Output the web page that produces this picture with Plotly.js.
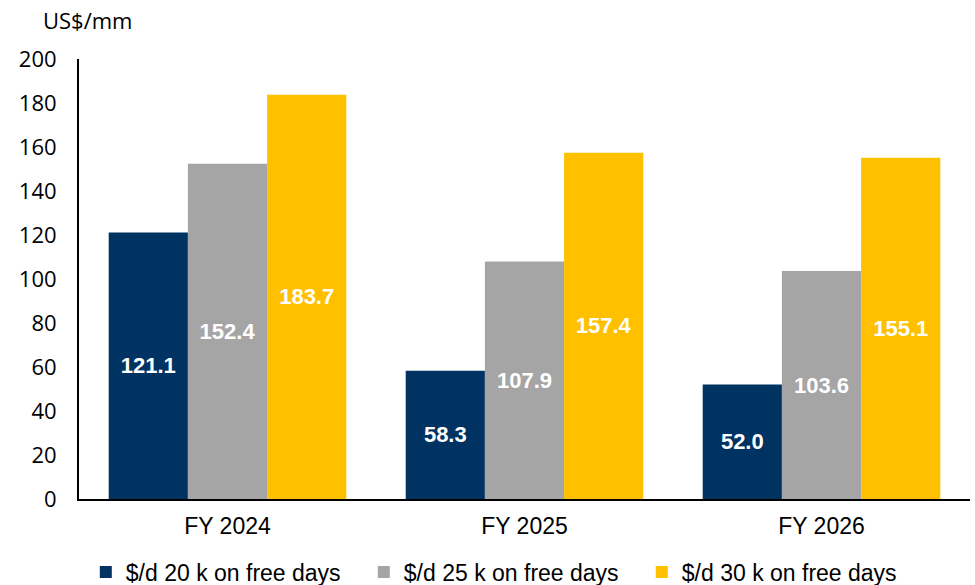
<!DOCTYPE html>
<html>
<head>
<meta charset="utf-8">
<script src="https://cdn.plot.ly/plotly-3.0.1.min.js"></script>
<style>html,body{margin:0;padding:0;background:#fff;}#chart{width:975px;height:585px;}</style>
</head>
<body>
<div id="chart"></div>
<script>
const categories = ["FY 2024", "FY 2025", "FY 2026"];
const seriesNames = ["$/d 20 k on free days", "$/d 25 k on free days", "$/d 30 k on free days"];
const values20k = [121.1, 58.3, 52.0];
const values25k = [152.4, 107.9, 103.6];
const values30k = [183.7, 157.4, 155.1];
const colors = ["#003361", "#A5A5A5", "#FFC000"];
const yTicks = [0, 20, 40, 60, 80, 100, 120, 140, 160, 180, 200];

const allValues = [values20k, values25k, values30k];
const traces = allValues.map((vals, i) => ({
  type: "bar",
  name: seriesNames[i],
  x: categories,
  y: vals,
  marker: {color: colors[i], line: {width: 0}},
  texttemplate: "%{y:.1f}",
  textposition: "inside",
  insidetextanchor: "middle",
  constraintext: "none",
  textangle: 0,
  textfont: {family: "Liberation Sans, Arial", size: 22, color: "#ffffff", weight: "bold"},
  hoverinfo: "x+y+name"
}));

const layout = {
  width: 975,
  height: 585,
  margin: {l: 79, r: 5, t: 59, b: 86},
  paper_bgcolor: "#ffffff",
  plot_bgcolor: "#ffffff",
  barmode: "group",
  bargap: 0.2,
  bargroupgap: 0,
  showlegend: true,
  legend: {
    orientation: "h",
    xref: "container", yref: "container",
    x: 0.088, xanchor: "left",
    y: 0.022, yanchor: "middle",
    font: {family: "Liberation Sans, Arial", size: 23, color: "#000000"},
    entrywidth: 233,
    itemclick: false
  },
  xaxis: {
    type: "category",
    showline: true, linecolor: "#000000", linewidth: 2,
    showgrid: false, zeroline: false,
    ticks: "",
    ticklabelstandoff: 5,
    tickfont: {family: "Liberation Sans, Arial", size: 23, color: "#000000"}
  },
  yaxis: {
    range: [0, 200],
    tickvals: yTicks,
    showline: true, linecolor: "#000000", linewidth: 2,
    showgrid: false, zeroline: false,
    ticks: "",
    ticklabelstandoff: 16,
    tickfont: {family: "Open Sans, DejaVu Sans", size: 22, color: "#000000"}
  },
  annotations: [{
    text: "US$/mm",
    xref: "paper", yref: "paper",
    x: 0.0101, y: 1.088,
    xanchor: "center", yanchor: "middle",
    showarrow: false,
    font: {family: "Open Sans, DejaVu Sans", size: 22, color: "#000000"}
  }]
};

Plotly.newPlot("chart", traces, layout, {displayModeBar: false, staticPlot: true});
</script>
</body>
</html>
